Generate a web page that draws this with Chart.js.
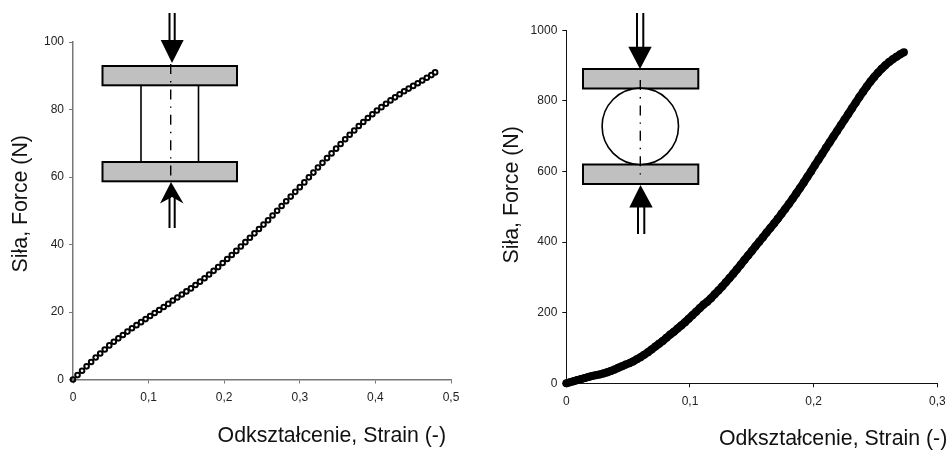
<!DOCTYPE html>
<html><head><meta charset="utf-8">
<style>
html,body{margin:0;padding:0;background:#fff;width:949px;height:450px;overflow:hidden}
#a,#b{position:absolute;top:0;height:450px}
#a{left:0;width:490px}#b{left:490px;width:500px}
svg{position:absolute;left:0;top:0;pointer-events:none}
</style>
<script src="https://cdn.jsdelivr.net/npm/chart.js@4"></script>
</head><body>
<div id="a"><canvas id="c1" width="490" height="450"></canvas></div>
<div id="b"><canvas id="c2" width="500" height="450"></canvas></div>
<svg width="949" height="450" fill="none" stroke="#000">
  <!-- left schematic -->
  <rect x="102.5" y="66" width="134.5" height="19.3" fill="#c0c0c0" stroke-width="2"/>
  <rect x="102.5" y="162" width="134.5" height="19.3" fill="#c0c0c0" stroke-width="2"/>
  <path d="M141 85V162M198.5 85V162" stroke-width="1.6"/>
  <path d="M170.7 64V181" stroke-width="1.4" stroke-dasharray="10 7 1.4 7"/>
  <path d="M169.5 13V42M174.7 13V42M169.5 197V228M174.7 197V228" stroke-width="2"/>
  <path d="M160.7 40H183.7L172 63Z M171 182L183.5 203.5L172 197L160 203.5Z" fill="#000" stroke="none"/>
  <!-- right schematic -->
  <rect x="583" y="69" width="115.3" height="19.5" fill="#c0c0c0" stroke-width="2"/>
  <rect x="583" y="164.5" width="115.3" height="19.5" fill="#c0c0c0" stroke-width="2"/>
  <circle cx="640.3" cy="126.3" r="38.2" fill="#fff" stroke-width="1.6"/>
  <path d="M640.3 80V175" stroke-width="1.4" stroke-dasharray="10 7 1.4 7"/>
  <path d="M637 13V48M643.3 13V48M638 206V234M644.3 206V234" stroke-width="2"/>
  <path d="M628.3 46.7H651.7L640 69Z M640.5 185L652.7 207.5H629.3Z" fill="#000" stroke="none"/>
</svg>
<script>
const strainA = [0,.006,.012,.018,.024,.03,.036,.042,.048,.054,.06,.066,.072,.078,.084,.09,.096,.102,.108,.114,.12,.126,.132,.138,.144,.15,.156,.162,.168,.174,.18,.186,.192,.198,.204,.21,.216,.222,.228,.234,.24,.246,.252,.258,.264,.27,.276,.282,.288,.294,.3,.306,.312,.318,.324,.33,.336,.342,.348,.354,.36,.366,.372,.378,.384,.39,.396,.402,.408,.414,.42,.426,.432,.438,.444,.45,.456,.462,.468,.474,.479];
const forceA = [0,1.3,2.6,3.9,5.2,6.5,7.7,8.9,10.1,11.2,12.2,13.2,14.2,15.2,16.1,17,17.9,18.8,19.7,20.6,21.5,22.4,23.4,24.3,25.2,26.1,27,28,29,30,31.1,32.2,33.3,34.5,35.7,36.9,38.1,39.4,40.7,42,43.3,44.6,45.9,47.2,48.6,50,51.4,52.8,54.2,55.6,57,58.4,59.9,61.3,62.8,64.2,65.6,67,68.4,69.8,71.2,72.5,73.8,75.1,76.3,77.5,78.6,79.7,80.7,81.7,82.7,83.6,84.5,85.4,86.2,87,87.8,88.6,89.4,90.2,91];
const strainB = [0,.003,.006,.009,.012,.015,.018,.021,.024,.027,.03,.033,.036,.039,.042,.045,.048,.051,.054,.057,.06,.063,.066,.069,.072,.075,.078,.081,.084,.087,.09,.093,.096,.099,.102,.105,.108,.111,.114,.117,.12,.123,.126,.129,.132,.135,.138,.141,.144,.147,.15,.153,.156,.159,.162,.165,.168,.171,.174,.177,.18,.183,.186,.189,.192,.195,.198,.201,.204,.207,.21,.213,.216,.219,.222,.225,.228,.231,.234,.237,.24,.243,.246,.249,.252,.255,.258,.261,.264,.267,.27,.273];
const forceB = [0,3,6,9,12,15,18,21,23,25,28,31,35,39,44,48,53,57,62,68,74,81,88,96,104,112,120,129,138,146,155,164,173,183,193,203,213,223,231,241,252,263,274,286,298,310,323,336,349,362,375,388,401,414,427,440,453,466,480,494,508,523,538,553,569,585,601,618,634,650,667,683,699,715,731,747,763,779,795,811,826,841,855,868,880,891,901,910,918,925,932,938];
const xTicksA = ['0','0,1','0,2','0,3','0,4','0,5'];
const xTicksB = ['0','0,1','0,2','0,3'];
const xTitle = 'Odkształcenie, Strain (-)';
const yTitle = 'Siła, Force (N)';
const FONT = '"Liberation Sans", Arial, sans-serif';

const nudge = {
  id: 'nudge',
  beforeDraw(c, args, o) {
    for (const [id, d] of [['x', o.x], ['y', o.y]]) {
      const s = c.scales[id];
      if (s._nudged) continue;
      const orig = s.drawTitle;
      s.drawTitle = function () {
        c.ctx.save(); c.ctx.translate(d[0], d[1]); orig.call(this); c.ctx.restore();
      };
      s._nudged = true;
    }
  }
};

function make(id, xs, ys, cfg) {
  new Chart(document.getElementById(id), {
    type: 'scatter',
    data: { datasets: [{
      data: xs.map((x, i) => ({ x, y: ys[i] })),
      showLine: cfg.line, borderColor: '#000', borderWidth: cfg.line ? cfg.lineW : 0,
      pointRadius: cfg.r, pointBorderWidth: cfg.bw, pointBorderColor: '#000',
      pointBackgroundColor: cfg.bg, clip: false
    }] },
    plugins: [nudge],
    options: {
      responsive: false, animation: false,
      layout: { padding: { left: 0, top: cfg.top, right: cfg.right, bottom: 0 } },
      plugins: { legend: { display: false }, tooltip: { enabled: false }, nudge: { x: cfg.nx, y: cfg.ny } },
      scales: {
        x: { type: 'linear', min: 0, max: cfg.xmax,
          afterFit: s => { s.height = 450 - cfg.bottomY; },
          grid: { drawOnChartArea: false, tickLength: 4, color: cfg.axis, tickColor: cfg.axis },
          border: { color: cfg.axis, width: cfg.axisW },
          ticks: { stepSize: .1, autoSkip: false, maxRotation: 0, padding: 7, color: '#222', font: { family: FONT, size: 12 }, callback: (v, i) => cfg.labels[i] },
          title: { display: true, text: xTitle, align: 'end', color: '#111', font: { family: FONT, size: 21.3 } } },
        y: { type: 'linear', min: 0, max: cfg.ymax,
          afterFit: s => { s.width = cfg.left; },
          grid: { drawOnChartArea: false, tickLength: 4, color: cfg.axis, tickColor: cfg.axis },
          border: { color: cfg.axis, width: cfg.axisW },
          ticks: { stepSize: cfg.ystep, padding: 5, color: '#222', font: { family: FONT, size: 12 }, callback: v => String(v) },
          title: { display: true, text: yTitle, color: '#111', font: { family: FONT, size: 21.3 } } }
      }
    }
  });
}
make('c1', strainA, forceA, { line: false, r: 2.3, bw: 2, bg: 'rgba(255,255,255,0)', top: 42, right: 39, left: 73, bottomY: 379.5, xmax: .5, ymax: 100, ystep: 20, labels: xTicksA, axis: '#777', axisW: 1.5, nx: [-5, 3], ny: [4, -7] });
make('c2', strainB, forceB, { line: true, lineW: 8, r: 4, bw: 0, bg: '#000', top: 30.3, right: 52.7, left: 76.3, bottomY: 383.3, xmax: .3, ymax: 1000, ystep: 200, labels: xTicksB, axis: '#111', axisW: 1, nx: [10, 6], ny: [5, -12] });
</script>
</body></html>
